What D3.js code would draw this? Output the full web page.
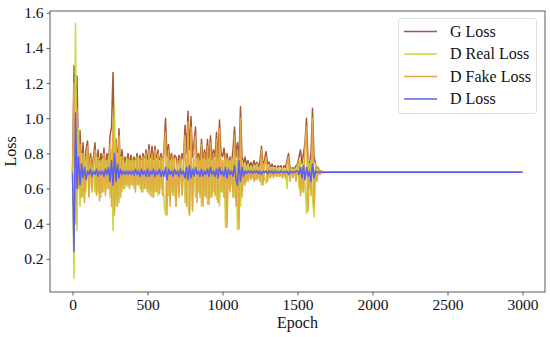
<!DOCTYPE html>
<html>
<head>
<meta charset="utf-8">
<script src="https://cdn.jsdelivr.net/npm/d3@7"></script>
<style>
  body { margin: 0; background: #fff; }
  svg { display: block; font-family: "Liberation Serif", "DejaVu Serif", serif; }
</style>
</head>
<body>
<script>
"use strict";
(function(){
    // sampled every 10 epochs from 0 to 1700, then the flat tail at 3000
    const epochs = d3.range(0, 1710, 10).concat([3000])

    const gLoss = [
        0.69, 1.30, 0.95, 1.24, 0.75, 0.93, 0.70, 0.86, 0.68, 0.82,
        0.87, 0.70, 0.80, 0.72, 0.78, 0.86, 0.70, 0.82, 0.72, 0.80,
        0.74, 0.83, 0.70, 0.80, 0.72, 0.90, 0.95, 1.26, 0.80, 0.88,
        0.72, 0.94, 0.70, 0.82, 0.72, 0.78, 0.74, 0.80, 0.73, 0.79,
        0.74, 0.78, 0.73, 0.80, 0.74, 0.79, 0.73, 0.80, 0.74, 0.82,
        0.74, 0.85, 0.73, 0.84, 0.74, 0.84, 0.75, 0.82, 0.73, 0.80,
        0.74, 0.82, 1.00, 0.78, 0.85, 0.74, 0.80, 0.74, 0.79, 0.78,
        0.73, 0.79, 0.74, 0.80, 0.76, 0.96, 0.80, 1.04, 0.82, 1.01,
        0.78, 0.86, 0.95, 0.74, 0.80, 0.74, 0.88, 0.75, 0.82, 0.76,
        0.88, 0.75, 0.90, 0.76, 0.82, 0.78, 0.92, 0.76, 0.99, 0.80,
        0.78, 0.83, 0.74, 0.80, 0.73, 0.78, 0.74, 0.82, 0.95, 0.78,
        0.86, 0.76, 1.065, 0.78, 0.74, 0.78, 0.73, 0.76, 0.72, 0.75,
        0.72, 0.76, 0.73, 0.75, 0.72, 0.76, 0.84, 0.73, 0.76, 0.81,
        0.74, 0.75, 0.72, 0.74, 0.72, 0.73, 0.71, 0.73, 0.72, 0.73,
        0.71, 0.73, 0.72, 0.76, 0.80, 0.72, 0.71, 0.72, 0.71, 0.73,
        0.74, 0.78, 0.82, 0.74, 0.80, 0.86, 1.00, 0.76, 0.74, 0.80,
        1.057, 0.78, 0.74, 0.72, 0.71, 0.70, 0.695, 0.693, 0.693, 0.693,
        0.693, 0.693
    ]

    const dRealLoss = [
        0.69, 0.09, 1.54, 0.36, 0.94, 0.50, 0.80, 0.55, 0.78, 0.58,
        0.80, 0.56, 0.77, 0.60, 0.76, 0.58, 0.78, 0.57, 0.76, 0.55,
        0.77, 0.58, 0.76, 0.60, 0.78, 0.55, 0.82, 0.36, 1.08, 0.50,
        0.80, 0.52, 0.78, 0.58, 0.76, 0.60, 0.77, 0.61, 0.76, 0.62,
        0.77, 0.60, 0.76, 0.62, 0.77, 0.60, 0.76, 0.58, 0.77, 0.60,
        0.76, 0.57, 0.77, 0.55, 0.76, 0.58, 0.77, 0.56, 0.76, 0.60,
        0.77, 0.52, 0.45, 0.78, 0.56, 0.76, 0.58, 0.77, 0.60, 0.50,
        0.76, 0.58, 0.77, 0.57, 0.76, 0.52, 0.77, 0.50, 0.45, 0.78,
        0.47, 0.76, 0.55, 0.77, 0.58, 0.76, 0.50, 0.77, 0.56, 0.76,
        0.51, 0.77, 0.55, 0.76, 0.58, 0.77, 0.54, 0.76, 0.50, 0.77,
        0.58, 0.76, 0.38, 0.77, 0.60, 0.76, 0.62, 0.77, 0.55, 0.76,
        0.365, 0.77, 0.50, 0.76, 0.62, 0.74, 0.64, 0.74, 0.66, 0.73,
        0.66, 0.73, 0.65, 0.74, 0.66, 0.73, 0.62, 0.74, 0.66, 0.63,
        0.73, 0.66, 0.72, 0.67, 0.72, 0.67, 0.72, 0.67, 0.72, 0.67,
        0.72, 0.67, 0.71, 0.60, 0.74, 0.67, 0.72, 0.67, 0.71, 0.66,
        0.74, 0.60, 0.76, 0.58, 0.75, 0.62, 0.46, 0.77, 0.60, 0.76,
        0.55, 0.44, 0.74, 0.66, 0.71, 0.68, 0.70, 0.69, 0.693, 0.693,
        0.693, 0.693
    ]

    const dFakeLoss = [
        0.69, 1.20, 0.40, 1.05, 0.60, 0.85, 0.55, 0.80, 0.52, 0.76,
        0.84, 0.55, 0.76, 0.58, 0.74, 0.82, 0.56, 0.78, 0.53, 0.75,
        0.58, 0.80, 0.56, 0.76, 0.60, 0.85, 0.50, 1.00, 0.45, 0.86,
        0.50, 0.90, 0.55, 0.78, 0.60, 0.74, 0.62, 0.77, 0.60, 0.76,
        0.62, 0.76, 0.58, 0.78, 0.62, 0.77, 0.58, 0.78, 0.60, 0.80,
        0.58, 0.82, 0.56, 0.80, 0.55, 0.82, 0.58, 0.80, 0.57, 0.78,
        0.56, 0.80, 0.92, 0.45, 0.82, 0.50, 0.78, 0.56, 0.77, 0.50,
        0.76, 0.55, 0.78, 0.56, 0.74, 0.90, 0.50, 0.98, 0.45, 0.95,
        0.48, 0.82, 0.90, 0.52, 0.78, 0.55, 0.85, 0.50, 0.80, 0.55,
        0.84, 0.51, 0.86, 0.55, 0.80, 0.56, 0.88, 0.52, 0.94, 0.58,
        0.76, 0.55, 0.80, 0.38, 0.76, 0.58, 0.78, 0.55, 0.90, 0.50,
        0.82, 0.37, 1.00, 0.55, 0.74, 0.62, 0.72, 0.64, 0.72, 0.65,
        0.72, 0.64, 0.73, 0.65, 0.72, 0.64, 0.82, 0.62, 0.74, 0.78,
        0.64, 0.73, 0.66, 0.72, 0.66, 0.72, 0.67, 0.71, 0.67, 0.71,
        0.66, 0.71, 0.66, 0.74, 0.78, 0.64, 0.71, 0.66, 0.72, 0.64,
        0.72, 0.76, 0.56, 0.72, 0.58, 0.84, 0.95, 0.47, 0.74, 0.56,
        1.00, 0.50, 0.72, 0.64, 0.72, 0.68, 0.70, 0.69, 0.693, 0.693,
        0.693, 0.693
    ]

    const dLoss = [
        0.69, 0.24, 1.03, 0.60, 0.78, 0.62, 0.74, 0.66, 0.72, 0.65,
        0.70, 0.68, 0.71, 0.67, 0.70, 0.68, 0.71, 0.67, 0.70, 0.68,
        0.70, 0.67, 0.71, 0.68, 0.72, 0.64, 0.76, 0.62, 0.80, 0.64,
        0.74, 0.66, 0.71, 0.68, 0.70, 0.68, 0.70, 0.68, 0.70, 0.68,
        0.70, 0.675, 0.71, 0.68, 0.70, 0.67, 0.71, 0.68, 0.70, 0.67,
        0.71, 0.67, 0.70, 0.68, 0.71, 0.67, 0.70, 0.68, 0.71, 0.67,
        0.70, 0.67, 0.72, 0.65, 0.71, 0.68, 0.70, 0.67, 0.71, 0.68,
        0.70, 0.67, 0.71, 0.68, 0.70, 0.66, 0.72, 0.65, 0.73, 0.66,
        0.71, 0.67, 0.72, 0.68, 0.70, 0.67, 0.71, 0.67, 0.70, 0.68,
        0.71, 0.67, 0.72, 0.68, 0.70, 0.67, 0.71, 0.66, 0.72, 0.68,
        0.70, 0.67, 0.72, 0.66, 0.71, 0.68, 0.70, 0.67, 0.73, 0.65,
        0.62, 0.76, 0.64, 0.72, 0.67, 0.70, 0.685, 0.70, 0.69, 0.70,
        0.685, 0.70, 0.69, 0.70, 0.685, 0.70, 0.68, 0.70, 0.69, 0.70,
        0.685, 0.70, 0.69, 0.70, 0.685, 0.70, 0.69, 0.695, 0.69, 0.70,
        0.69, 0.695, 0.69, 0.70, 0.68, 0.70, 0.69, 0.695, 0.69, 0.70,
        0.70, 0.68, 0.72, 0.66, 0.73, 0.65, 0.72, 0.67, 0.70, 0.64,
        0.74, 0.66, 0.70, 0.69, 0.695, 0.693, 0.693, 0.693, 0.693, 0.693,
        0.693, 0.693
    ]

    const seriesNames = ["G Loss", "D Real Loss", "D Fake Loss", "D Loss"]
    const seriesColors = ["#a5583a", "#c4da3a", "#e4a844", "#5c60ee"]
    const xTicks = [0, 500, 1000, 1500, 2000, 2500, 3000]
    const yTicks = [0.2, 0.4, 0.6, 0.8, 1.0, 1.2, 1.4, 1.6]

    // dimensions for svg
    const measurements = {
        width: 550,
        height: 337,
        left: 50,
        right: 545,
        top: 11,
        bottom: 292
    }

    const svgContainer = d3.select("body").append("svg")
        .attr("width", measurements.width)
        .attr("height", measurements.height)

    const scaleX = d3.scaleLinear()
        .domain([-150, 3150])
        .range([measurements.left, measurements.right])
    const scaleY = d3.scaleLinear()
        .domain([0.0115, 1.61])
        .range([measurements.bottom, measurements.top])

    // clip lines to the plot box
    svgContainer.append("clipPath")
        .attr("id", "plotClip")
        .append("rect")
        .attr("x", measurements.left)
        .attr("y", measurements.top)
        .attr("width", measurements.right - measurements.left)
        .attr("height", measurements.bottom - measurements.top)

    // draw the four loss curves
    const allSeries = [gLoss, dRealLoss, dFakeLoss, dLoss]
    const line = d3.line()
        .x((d, i) => scaleX(epochs[i]))
        .y((d) => scaleY(d))

    const plot = svgContainer.append("g").attr("clip-path", "url(#plotClip)")
    allSeries.forEach(function(values, k) {
        plot.append("path")
            .datum(values)
            .attr("fill", "none")
            .attr("stroke", seriesColors[k])
            .attr("stroke-width", 1.5)
            .attr("stroke-linejoin", "round")
            .attr("d", line)
    })

    // axes
    const xAxis = d3.axisBottom(scaleX)
        .tickValues(xTicks)
        .tickSize(3.5)
        .tickPadding(3)
        .tickFormat(d3.format("d"))
    const yAxis = d3.axisLeft(scaleY)
        .tickValues(yTicks)
        .tickSize(3.5)
        .tickPadding(3)
        .tickFormat(d3.format(".1f"))

    const gx = svgContainer.append("g")
        .attr("transform", "translate(0," + measurements.bottom + ")")
        .call(xAxis)
    const gy = svgContainer.append("g")
        .attr("transform", "translate(" + measurements.left + ",0)")
        .call(yAxis)
    ;[gx, gy].forEach(function(g) {
        g.select(".domain").remove()
        g.selectAll(".tick line").attr("stroke", "#333").attr("stroke-width", 0.8)
        g.selectAll(".tick text")
            .attr("fill", "#111")
            .style("font-size", "15.5px")
            .style("font-family", "Liberation Serif, serif")
    })

    // box around plot
    svgContainer.append("rect")
        .attr("x", measurements.left)
        .attr("y", measurements.top)
        .attr("width", measurements.right - measurements.left)
        .attr("height", measurements.bottom - measurements.top)
        .attr("fill", "none")
        .attr("stroke", "#333")
        .attr("stroke-width", 0.8)

    // axis labels
    svgContainer.append("text")
        .attr("x", (measurements.left + measurements.right) / 2)
        .attr("y", 328)
        .attr("text-anchor", "middle")
        .style("font-size", "16px")
        .attr("fill", "#111")
        .text("Epoch")
    svgContainer.append("text")
        .attr("transform", "translate(15.5," + ((measurements.top + measurements.bottom) / 2) + ")rotate(-90)")
        .attr("text-anchor", "middle")
        .style("font-size", "16px")
        .attr("fill", "#111")
        .text("Loss")

    // legend
    const legend = svgContainer.append("g")
    legend.append("rect")
        .attr("x", 398.5)
        .attr("y", 18.5)
        .attr("width", 138)
        .attr("height", 95)
        .attr("rx", 2.5)
        .attr("fill", "#fff")
        .attr("fill-opacity", 0.8)
        .attr("stroke", "#d6d6d6")
        .attr("stroke-width", 0.8)
    seriesNames.forEach(function(name, k) {
        const yRow = 31.5 + k * 22.5
        legend.append("line")
            .attr("x1", 404)
            .attr("x2", 437)
            .attr("y1", yRow)
            .attr("y2", yRow)
            .attr("stroke", seriesColors[k])
            .attr("stroke-width", 1.5)
        legend.append("text")
            .attr("x", 450)
            .attr("y", yRow + 5.3)
            .style("font-size", "16px")
            .attr("fill", "#111")
            .text(name)
    })
})()
</script>
</body>
</html>
